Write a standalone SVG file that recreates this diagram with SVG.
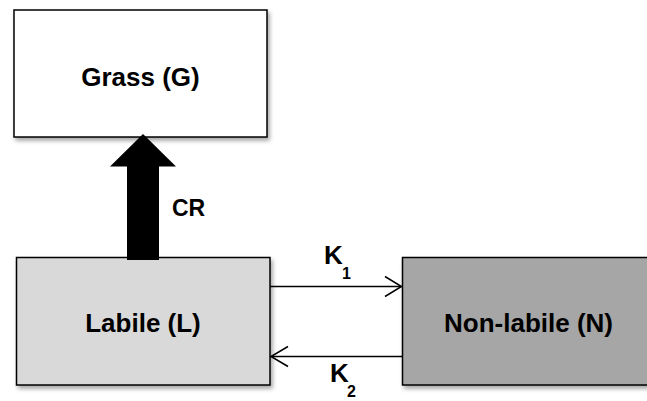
<svg xmlns="http://www.w3.org/2000/svg" width="647" height="401" viewBox="0 0 647 401">
<defs>
<filter id="sh" x="-10%" y="-10%" width="130%" height="140%">
<feDropShadow dx="2" dy="3" stdDeviation="2" flood-color="#000" flood-opacity="0.35"/>
</filter>
<style>
.box{stroke:#000;stroke-width:1.5;filter:url(#sh)}
.lbl{font-family:"Liberation Sans",Arial,sans-serif;font-weight:bold;fill:#000}
.big{font-size:26px;text-anchor:middle}
.ln{stroke:#000;stroke-width:1.5;fill:none}
</style>
</defs>
<rect width="647" height="401" fill="#fff"/>
<g id="grass">
<rect class="box" x="14" y="10" width="253" height="127" fill="#fff"/>
<text class="lbl big" x="140.5" y="86">Grass (G)</text>
</g>
<g id="labile">
<rect class="box" x="16.5" y="257.5" width="253.5" height="127.5" fill="#d9d9d9"/>
<text class="lbl big" x="143" y="331.5">Labile (L)</text>
</g>
<g id="nonlabile">
<rect class="box" x="402.5" y="257.5" width="260" height="127.5" fill="#a6a6a6"/>
<text class="lbl big" x="528.5" y="331.5">Non-labile (N)</text>
</g>
<g id="connectors">
<polygon points="127,260 127,166.5 110,166.5 143,134 176,166.5 159,166.5 159,260" fill="#000"/>
<text class="lbl" x="172" y="215.5" font-size="23">CR</text>
<line class="ln" x1="270" y1="286.5" x2="401.5" y2="286.5"/>
<polyline class="ln" points="385,276.5 401.5,286.5 385,296.5"/>
<text class="lbl" x="324" y="263.5" font-size="26">K</text>
<text class="lbl" x="342" y="278.5" font-size="16">1</text>
<line class="ln" x1="402" y1="356.5" x2="271" y2="356.5"/>
<polyline class="ln" points="288,346.5 271,356.5 288,366.5"/>
<text class="lbl" x="330" y="382" font-size="26">K</text>
<text class="lbl" x="347" y="397" font-size="16">2</text>
</g>
</svg>
